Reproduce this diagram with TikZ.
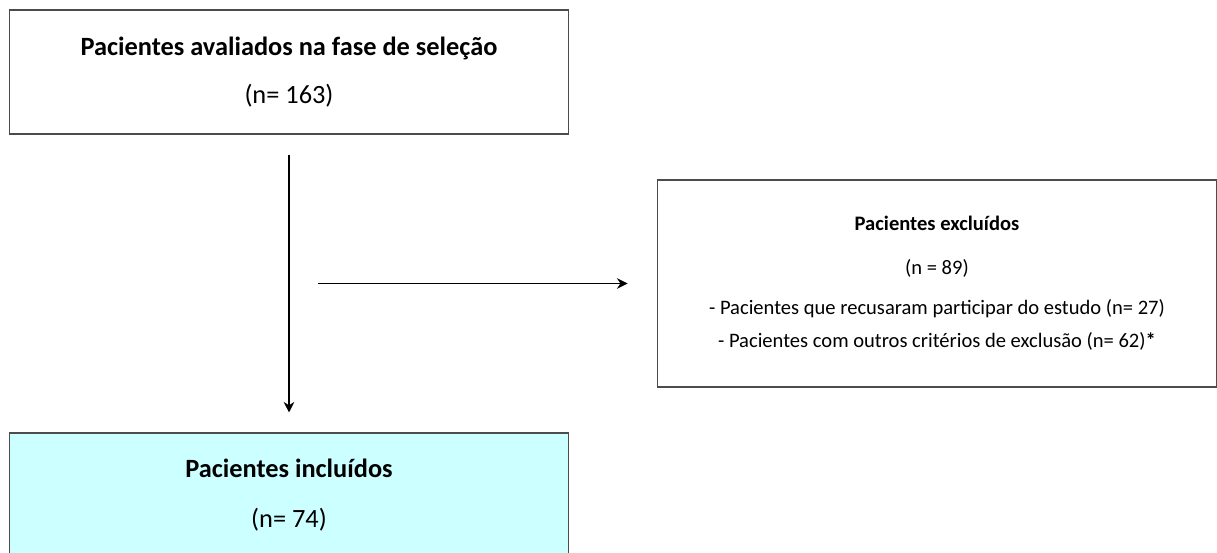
\documentclass[tikz,border=0pt]{standalone}
\usepackage{fontspec}
\setmainfont{Carlito}
\usetikzlibrary{arrows.meta}
\definecolor{incluido}{HTML}{CCFFFF}

\begin{document}
\begin{tikzpicture}[x=0.02cm, y=-0.02cm, >={Stealth[length=6pt,width=6pt]},
                    caixa/.style={draw=black!70, line width=0.6pt,
                      minimum width=11.2cm, align=center, inner sep=0pt},
                    seta/.style={->, line width=0.6pt}]
  \useasboundingbox (0,0) rectangle (1217,553);
  \clip (0,0) rectangle (1217,553);

  % Caixas do fluxograma.
  \node[caixa, minimum height=2.48cm, font=\fontsize{15}{18}\selectfont]
    (selecao) at (289,72)
    {\textbf{Pacientes avaliados na fase de seleção}\\[9.5pt] (n= 163)};
  \node[caixa, minimum height=4.14cm, font=\fontsize{11.7}{14}\selectfont]
    (excluidos) at (937,283.5)
    {\textbf{Pacientes excluídos}\\[11pt] (n = 89)\\[8.8pt]
     - Pacientes que recusaram participar do estudo (n= 27)\\[4.8pt]
     - Pacientes com outros critérios de exclusão (n= 62)\textbf{*}};
  \node[caixa, fill=incluido, minimum height=2.48cm,
        font=\fontsize{15}{18}\selectfont]
    (incluidos) at (289,495)
    {\textbf{Pacientes incluídos}\\[10.5pt] (n= 74)};

  % Setas entre as caixas.
  \coordinate (desvio) at (selecao.south |- excluidos.west);
  \draw[seta, shorten <=0.4cm, shorten >=0.4cm]
    (selecao.south) -- (incluidos.north);
  \draw[seta, shorten <=0.58cm, shorten >=0.58cm] (desvio) -- (excluidos.west);
\end{tikzpicture}
\end{document}
